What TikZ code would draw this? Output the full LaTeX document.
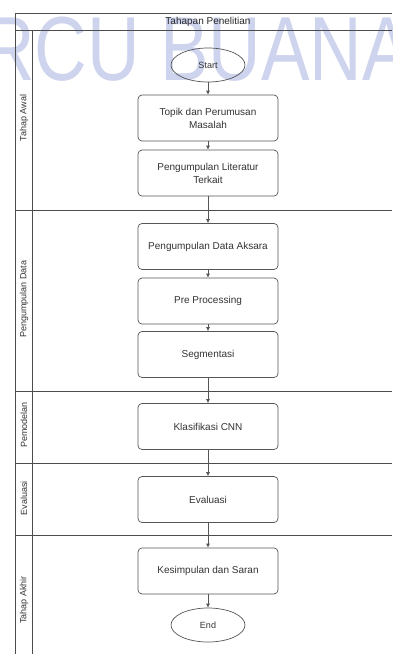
\documentclass[tikz,border=0pt]{standalone}
\usepackage{fontspec}
\setmainfont{Liberation Sans}
\usetikzlibrary{arrows.meta,shapes.geometric}
\definecolor{wm}{RGB}{206,212,238}
\definecolor{ln}{RGB}{85,85,85}
\begin{document}
\begin{tikzpicture}[x=1pt,y=-1pt,
  box/.style={draw=ln, rounded corners=4pt, minimum width=140pt, minimum height=46pt, align=center, font=\fontsize{10}{13}\selectfont, text=black!80, line width=0.7pt, fill=white},
  term/.style={draw=ln, ellipse, minimum width=74pt, minimum height=34pt, font=\fontsize{9}{11}\selectfont, text=black!80, inner sep=0pt, line width=0.7pt},
  arr/.style={draw=ln, line width=0.7pt, -{Latex[length=4pt,width=4pt]}},
  frame/.style={draw=black!70, line width=0.8pt},
  lanelab/.style={rotate=90, font=\fontsize{9}{11}\selectfont, text=black!80, inner sep=0pt}]
\useasboundingbox (0,0) rectangle (392,654);
\node[anchor=base west, text=wm, font=\fontsize{91}{91}\selectfont, xscale=0.8, inner sep=0pt] (wmk) at (-18,80) {RCU BUANA};
% frame
\coordinate (tl) at (15,13); \coordinate (tr) at (392,13);
\coordinate (hl) at (15,30); \coordinate (hr) at (392,30);
\coordinate (bl) at (15,654); \coordinate (il) at (32,30); \coordinate (ib) at (32,654);
\draw[frame] (tr) -- (tl) -- (bl);
\draw[frame] (hl) -- (hr);
\draw[frame] (il) -- (ib);
\foreach \yy/\nm in {210/s1,391/s2,463/s3,535/s4}{
  \coordinate (\nm l) at (15,\yy); \coordinate (\nm r) at (392,\yy);
  \draw[frame] (\nm l) -- (\nm r);
}
\node[font=\fontsize{10}{12}\selectfont, text=black!85] (title) at (208,22) {Tahapan Penelitian};
% lane labels
\node[lanelab] (l1) at (24,118) {Tahap Awal};
\node[lanelab] (l2) at (24,299) {Pengumpulan Data};
\node[lanelab] (l3) at (24,425) {Pemodelan};
\node[lanelab] (l4) at (24,498) {Evaluasi};
\node[lanelab] (l5) at (24,600) {Tahap Akhir};
% nodes
\node[term] (start) at (208,65) {Start};
\node[box] (b1) at (208,118) {Topik dan Perumusan\\Masalah};
\node[box] (b2) at (208,173) {Pengumpulan Literatur\\Terkait};
\node[box] (b3) at (208,246.5) {Pengumpulan Data Aksara};
\node[box] (b4) at (208,301) {Pre Processing};
\node[box] (b5) at (208,354.5) {Segmentasi};
\node[box] (b6) at (208,426.5) {Klasifikasi CNN};
\node[box] (b7) at (208,499.5) {Evaluasi};
\node[box] (b8) at (208,571) {Kesimpulan dan Saran};
\node[term] (end) at (208,625) {End};
% connectors
\draw[arr] (start) -- (b1);
\draw[arr] (b1) -- (b2);
\draw[arr] (b2) -- (b3);
\draw[arr] (b3) -- (b4);
\draw[arr] (b4) -- (b5);
\draw[arr] (b5) -- (b6);
\draw[arr] (b6) -- (b7);
\draw[arr] (b7) -- (b8);
\draw[arr] (b8) -- (end);
\end{tikzpicture}
\end{document}
